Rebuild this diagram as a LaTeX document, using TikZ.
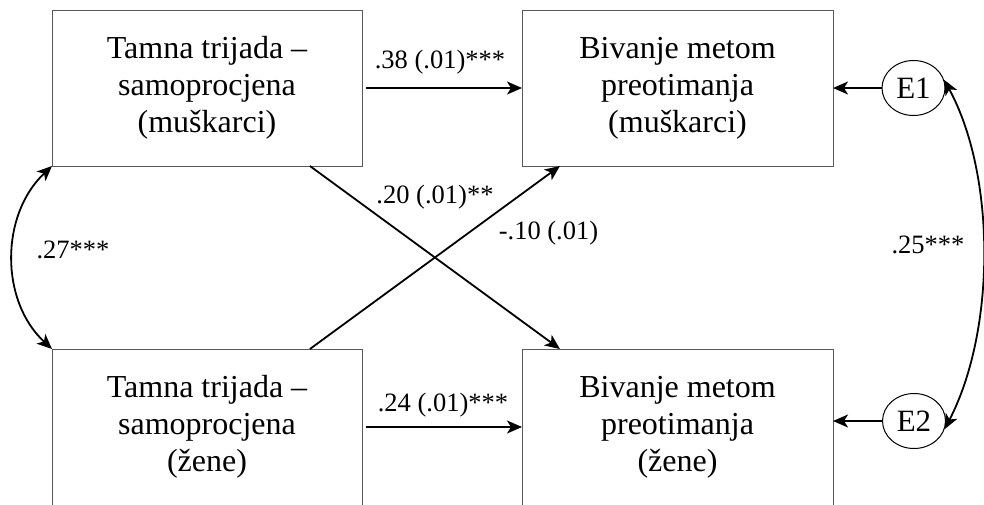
\documentclass[tikz,border=0pt]{standalone}
\usepackage{fontspec}
\setmainfont{Liberation Serif}
\usetikzlibrary{arrows.meta,shapes.geometric,calc}
\begin{document}
\begin{tikzpicture}[x=1pt,y=-1pt,
  box/.style={draw=black!65, line width=1pt, minimum width=310pt, minimum height=156pt,
    inner sep=0pt, outer sep=0pt, align=center, font=\fontsize{32}{37}\selectfont},
  errnode/.style={draw=black, line width=1pt, ellipse, minimum width=63pt, minimum height=55pt,
    inner sep=0pt, font=\fontsize{31}{36}\selectfont},
  lbl/.style={anchor=base, inner sep=0pt, font=\fontsize{26.5}{30}\selectfont},
  tip/.tip={Stealth[length=15pt,width=13pt,inset=4pt]},
  arr/.style={-tip, line width=1.8pt},
  dblarr/.style={tip-tip, line width=1.8pt}]
\useasboundingbox (0,0) rectangle (984,504);
\node[box] (tl) at (207,88) {Tamna trijada –\\samoprocjena\\(muškarci)};
\node[box, minimum width=311pt] (tr) at (677.5,88) {Bivanje metom\\preotimanja\\(muškarci)};
\node[box] (bl) at (207,427) {Tamna trijada –\\samoprocjena\\(žene)};
\node[box, minimum width=311pt] (br) at (677.5,427) {Bivanje metom\\preotimanja\\(žene)};
\node[errnode] (e1) at (913.5,88) {E1};
\node[errnode] (e2) at (914,421) {E2};
% paths
\draw[arr, shorten <=4pt] (tl.east) -- (tr.west);
\draw[arr, shorten <=4pt] (bl.east) -- (br.west);
\draw[arr] ($(tl.south west)!0.832!(tl.south east)$) -- ($(br.north west)!0.122!(br.north east)$);
\draw[arr] ($(bl.north west)!0.832!(bl.north east)$) -- ($(tr.south west)!0.122!(tr.south east)$);
\draw[arr] (e1.west) -- (e1.west -| tr.east);
\draw[arr] (e2.west) -- (e2.west -| br.east);
\draw[dblarr] (tl.south west) .. controls (0,215) and (0,301) .. (bl.north west);
\draw[dblarr] (e1.15) .. controls (996,175) and (996,330) .. (e2.-15);
% labels
\node[lbl] (l1) at (440,68) {.38 (.01)***};
\node[lbl] (l2) at (443,411) {.24 (.01)***};
\node[lbl] (l3) at (435,203) {.20 (.01)**};
\node[lbl] (l4) at (548.5,239) {-.10 (.01)};
\node[lbl] (l5) at (73,258) {.27***};
\node[lbl] (l6) at (928,253) {.25***};
\end{tikzpicture}
\end{document}
